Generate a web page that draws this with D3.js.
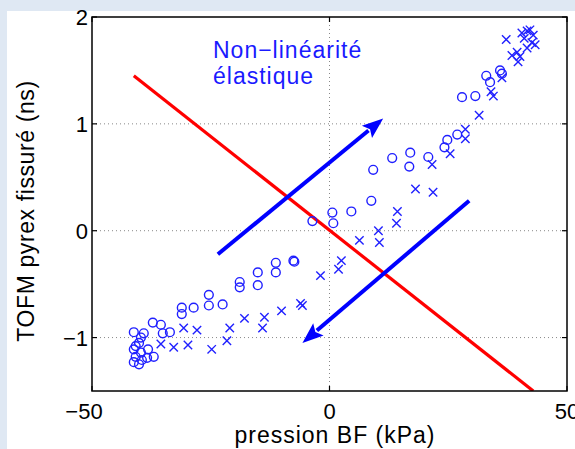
<!DOCTYPE html>
<html><head><meta charset="utf-8">
<script src="https://cdn.jsdelivr.net/npm/d3@7"></script>
<style>
html,body{margin:0;padding:0;background:#dfe8f3;}
svg{display:block;}
</style></head>
<body>
<script>
// Data (pression BF kPa, TOFM ns)
const circlesX = [-41.2,-39.1,-37.2,-35.5,-33.6,-35.1,-40.1,-39.7,-40.8,-41.2,-40.8,-41.2,-39.7,-38.2,-38.4,-37.0,-40.1,-39.5,
  -31.1,-31.1,-28.6,-25.4,-25.4,-22.5,-18.9,-18.9,-15.1,-15.1,-11.3,-11.3,-7.6,-7.4,
  -3.6,0.6,0.8,4.6,8.8,9.2,13.2,17.0,16.8,20.8,24.2,24.8,26.9,27.9,30.7,33.0,33.8,35.9,36.3];
const circlesY = [-0.95,-0.96,-0.86,-0.88,-0.95,-0.96,-1.05,-1.00,-1.08,-1.11,-1.18,-1.23,-1.14,-1.11,-1.19,-1.18,-1.25,-1.21,
  -0.72,-0.78,-0.72,-0.60,-0.70,-0.69,-0.48,-0.53,-0.39,-0.51,-0.30,-0.39,-0.28,-0.29,
  0.09,0.17,0.07,0.18,0.28,0.57,0.68,0.73,0.60,0.69,0.78,0.85,0.90,1.25,1.26,1.45,1.39,1.50,1.47];
const crossesX = [-35.5,-32.8,-29.8,-30.7,-27.9,-24.8,-21.6,-21.0,-17.9,-14.1,-13.7,-10.1,-6.1,-5.7,
  -1.9,1.9,2.5,6.3,10.5,10.3,14.1,14.3,18.1,21.8,21.6,25.4,28.6,28.6,31.5,34.0,34.5,36.3,
  37.2,38.4,39.7,39.5,40.1,40.5,41.6,42.2,42.9,42.6,41.6,41.0,43.3];
const crossesY = [-1.06,-1.09,-1.07,-0.91,-0.93,-1.11,-1.03,-0.91,-0.82,-0.91,-0.81,-0.75,-0.68,-0.70,
  -0.42,-0.36,-0.28,-0.09,-0.11,0.00,0.07,0.18,0.39,0.36,0.62,0.72,0.86,0.95,1.08,1.30,1.26,1.43,
  1.79,1.64,1.58,1.67,1.63,1.85,1.87,1.88,1.83,1.76,1.71,1.80,1.74];
const redLineX = [-41.2, 42.9];
const redLineY = [1.45, -1.50];
const arrowUpX = [-23.5, 11.3];
const arrowUpY = [-0.22, 1.05];
const arrowDownX = [29.4, -5.7];
const arrowDownY = [0.28, -1.05];
const xTicks = [-50, 0, 50];
const yTicks = [-1, 0, 1, 2];
const xDomain = [-50, 50];
const yDomain = [-1.5, 2];
const annotationLines = ["Non\u2212linéarité", "élastique"];
const xLabel = "pression BF (kPa)";
const yLabel = "TOFM pyrex fissuré (ns)";

const W = 575, H = 449;
const svg = d3.select("body").append("svg").attr("width", W).attr("height", H);
// white panel
svg.append("rect").attr("x", 7).attr("y", 11).attr("width", W - 7).attr("height", H - 11).attr("fill", "#fff");

const L = 92, R = 567, T = 17, B = 391;
const x = d3.scaleLinear().domain(xDomain).range([L, R]);
const y = d3.scaleLinear().domain(yDomain).range([B, T]);
const font = "'Liberation Sans', Arial, sans-serif";

// grid
const grid = svg.append("g").attr("stroke", "#888").attr("stroke-width", 1).attr("stroke-dasharray", "1,3");
xTicks.filter(d => d > xDomain[0] && d < xDomain[1]).forEach(d => {
  grid.append("line").attr("x1", x(d)).attr("x2", x(d)).attr("y1", T).attr("y2", B);
});
yTicks.filter(d => d > yDomain[0] && d < yDomain[1]).forEach(d => {
  grid.append("line").attr("x1", L).attr("x2", R).attr("y1", y(d)).attr("y2", y(d));
});

// clip
svg.append("clipPath").attr("id", "clip").append("rect").attr("x", L).attr("y", T).attr("width", R - L).attr("height", B - T);
const plot = svg.append("g").attr("clip-path", "url(#clip)");

// red line
plot.append("line")
  .attr("x1", x(redLineX[0])).attr("y1", y(redLineY[0]))
  .attr("x2", x(redLineX[1])).attr("y2", y(redLineY[1]))
  .attr("stroke", "#ff0000").attr("stroke-width", 3.2);

// arrows
function arrow(xs, ys) {
  const x1 = x(xs[0]), y1 = y(ys[0]), x2 = x(xs[1]), y2 = y(ys[1]);
  const dx = x2 - x1, dy = y2 - y1, len = Math.hypot(dx, dy);
  const ux = dx / len, uy = dy / len, px = -uy, py = ux;
  const hl = 21, hw = 8;
  const bx = x2 - ux * hl, by = y2 - uy * hl;
  plot.append("line").attr("x1", x1).attr("y1", y1).attr("x2", bx + ux * 2).attr("y2", by + uy * 2)
    .attr("stroke", "#0000ff").attr("stroke-width", 4);
  plot.append("path")
    .attr("d", `M${x2},${y2}L${bx + px * hw},${by + py * hw}L${bx + ux * 4},${by + uy * 4}L${bx - px * hw},${by - py * hw}Z`)
    .attr("fill", "#0000ff");
}
arrow(arrowUpX, arrowUpY);
arrow(arrowDownX, arrowDownY);

// circles
plot.selectAll("circle.o").data(circlesX.map((v, i) => [v, circlesY[i]])).enter()
  .append("circle").attr("cx", d => x(d[0])).attr("cy", d => y(d[1])).attr("r", 4.4)
  .attr("fill", "none").attr("stroke", "#2020ff").attr("stroke-width", 1.4);
// crosses
const s = 4.2;
plot.selectAll("path.x").data(crossesX.map((v, i) => [v, crossesY[i]])).enter()
  .append("path")
  .attr("d", d => { const cx = x(d[0]), cy = y(d[1]); return `M${cx - s},${cy - s}L${cx + s},${cy + s}M${cx - s},${cy + s}L${cx + s},${cy - s}`; })
  .attr("stroke", "#2020ff").attr("stroke-width", 1.4).attr("fill", "none");

// axes box
svg.append("rect").attr("x", L).attr("y", T).attr("width", R - L).attr("height", B - T)
  .attr("fill", "none").attr("stroke", "#000").attr("stroke-width", 1.5);

// ticks (inward, all sides)
const tk = svg.append("g").attr("stroke", "#000").attr("stroke-width", 1.2);
xTicks.forEach(d => {
  tk.append("line").attr("x1", x(d)).attr("x2", x(d)).attr("y1", B).attr("y2", B - 5);
  tk.append("line").attr("x1", x(d)).attr("x2", x(d)).attr("y1", T).attr("y2", T + 5);
});
yTicks.forEach(d => {
  tk.append("line").attr("x1", L).attr("x2", L + 5).attr("y1", y(d)).attr("y2", y(d));
  tk.append("line").attr("x1", R).attr("x2", R - 5).attr("y1", y(d)).attr("y2", y(d));
});

// tick labels
const fmt = d => d < 0 ? "\u2212" + Math.abs(d) : String(d);
svg.selectAll("text.xt").data(xTicks).enter().append("text")
  .attr("x", d => x(d)).attr("dx", d => d < 0 ? -8 : 0).attr("y", B + 28).attr("text-anchor", "middle")
  .attr("font-family", font).attr("font-size", 22).attr("fill", "#000").text(fmt);
svg.selectAll("text.yt").data(yTicks).enter().append("text")
  .attr("x", L - 4).attr("y", d => y(d) + 8).attr("text-anchor", "end")
  .attr("font-family", font).attr("font-size", 22).attr("fill", "#000").text(fmt);

// axis labels
svg.append("text").attr("x", 335).attr("y", 443).attr("text-anchor", "middle")
  .attr("font-family", font).attr("font-size", 23).attr("letter-spacing", 1).attr("fill", "#000").text(xLabel);
svg.append("text").attr("transform", `translate(34,211) rotate(-90)`).attr("text-anchor", "middle")
  .attr("font-family", font).attr("font-size", 23).attr("letter-spacing", 0.6).attr("fill", "#000").text(yLabel);

// annotation
svg.selectAll("text.ann").data(annotationLines).enter().append("text")
  .attr("x", 213).attr("y", (d, i) => 58 + i * 26)
  .attr("font-family", font).attr("font-size", 23).attr("letter-spacing", 1).attr("fill", "#1a1aff").text(d => d);
</script>
</body></html>
